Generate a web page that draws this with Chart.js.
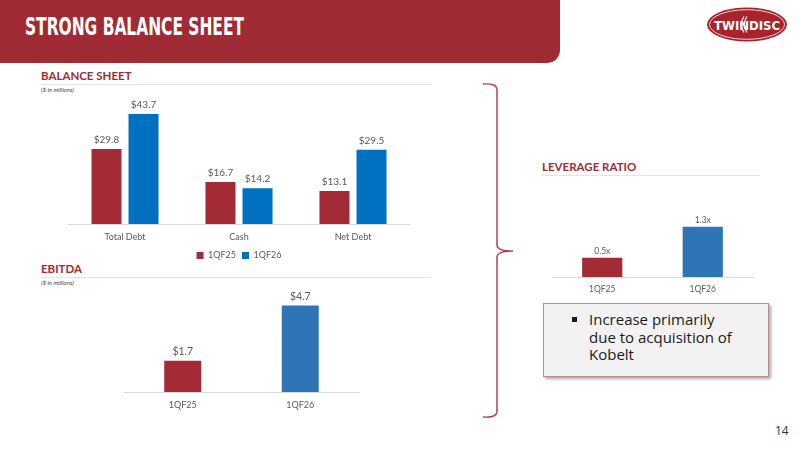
<!DOCTYPE html>
<html><head><meta charset="utf-8">
<script src="https://cdn.jsdelivr.net/npm/chart.js@4.4.1/dist/chart.umd.min.js"></script>
<style>
body{margin:0;width:800px;height:450px;overflow:hidden;background:#fff;position:relative;font-family:Lato,'Open Sans',sans-serif;}
.abs{position:absolute;}
#band{left:0;top:0;width:560px;height:63px;background:#A12B35;border-bottom-right-radius:13px;}
#title{left:25px;top:13px;color:#fff;font-weight:bold;font-size:25px;font-family:'Liberation Sans Narrow','DejaVu Sans Condensed',sans-serif;white-space:nowrap;transform-origin:0 0;display:inline-block;line-height:28px;}
.sec{color:#A12B35;font-weight:bold;font-size:11.5px;font-family:Lato,sans-serif;white-space:nowrap;line-height:14px;}
.rule{height:1px;background:#E4E4E4;}
.sub{font-style:italic;font-size:6px;color:#404040;white-space:nowrap;line-height:8px;}
canvas{position:absolute;}
#box{left:543px;top:303px;width:226px;height:74px;background:#F2F2F2;border:1px solid #BC8A8F;box-sizing:border-box;box-shadow:2px 2px 3px rgba(0,0,0,0.35);}
#boxtext{left:589px;top:311px;font-family:'Open Sans',sans-serif;font-size:15px;line-height:17.5px;color:#1b1b1b;width:152px;}
#bullet{left:572px;top:317px;width:5px;height:5px;background:#1b1b1b;}
#page{left:775px;top:422px;font-family:'Open Sans',sans-serif;font-size:12px;color:#333;}
</style></head>
<body>
<div id="band" class="abs"></div>
<span id="title" class="abs">STRONG BALANCE SHEET</span>
<svg class="abs" style="left:0;top:0" width="800" height="450">
  <ellipse cx="747" cy="24.5" rx="40" ry="17" fill="#A8232E"/>
  <ellipse cx="747" cy="24.5" rx="37.5" ry="14.8" fill="none" stroke="#fff" stroke-width="0.8"/>
  <text x="714" y="29.5" fill="#fff" font-family="'Liberation Sans Narrow','DejaVu Sans Condensed',sans-serif" font-weight="bold" font-size="13">TWIN</text>
  <path d="M744 16.5 Q738.5 24.5 744 32.5 M747 16.5 Q741.5 24.5 747 32.5" stroke="#fff" stroke-width="1.2" fill="none"/>
  <text x="749" y="29.5" fill="#fff" font-family="'Liberation Sans Narrow','DejaVu Sans Condensed',sans-serif" font-weight="bold" font-size="13">DISC</text>
  <path d="M483 84 Q497 83 497 90 L497 245 Q497 251 513 251 Q497 251 497 257 L497 411 Q497 418 483 417" stroke="#B4434E" stroke-width="1.5" fill="none"/>
</svg>

<div class="abs sec" style="left:41px;top:69px">BALANCE SHEET</div>
<div class="abs rule" style="left:41px;top:84px;width:390px"></div>
<div class="abs sub" style="left:41px;top:86px">($ in millions)</div>

<div class="abs sec" style="left:41px;top:262px">EBITDA</div>
<div class="abs rule" style="left:41px;top:277px;width:390px"></div>
<div class="abs sub" style="left:41px;top:279px">($ in millions)</div>

<div class="abs sec" style="left:542px;top:160px">LEVERAGE RATIO</div>
<div class="abs rule" style="left:542px;top:175px;width:218px"></div>

<canvas id="c1" width="358" height="180" style="left:60px;top:90px"></canvas>
<canvas id="c2" width="251" height="122" style="left:116px;top:292px"></canvas>
<canvas id="c3" width="217" height="94" style="left:544px;top:205px"></canvas>

<div id="box" class="abs"></div>
<div id="bullet" class="abs"></div>
<div id="boxtext" class="abs">Increase primarily due to acquisition of Kobelt</div>
<div id="page" class="abs">14</div>

<script>
// ---- data ----
const bsCategories = ['Total Debt', 'Cash', 'Net Debt'];
const bs1QF25 = [29.8, 16.7, 13.1];
const bs1QF26 = [43.7, 14.2, 29.5];
const bsSeriesNames = ['1QF25', '1QF26'];

const ebitdaCategories = ['1QF25', '1QF26'];
const ebitdaValues = [1.7, 4.7];

const leverageCategories = ['1QF25', '1QF26'];
const leverageValues = [0.5, 1.3];

// ---- title fit ----
(function(){
  const t=document.getElementById('title');
  const w=t.getBoundingClientRect().width;
  t.style.transform='scaleX('+(219/w)+')';
})();

const RED='#A22B35', BLUE='#0070C0', BLUE2='#2E75B6', GRAY='#595959', AXIS='#D9D9D9';

const valueLabels = {
  id:'valueLabels',
  afterDatasetsDraw(chart, args, opts){
    const ctx=chart.ctx; ctx.save();
    ctx.font=(opts.size||10)+'px Lato, sans-serif';
    ctx.fillStyle=GRAY; ctx.textAlign='center'; ctx.textBaseline='alphabetic';
    chart.data.datasets.forEach((ds,i)=>{
      chart.getDatasetMeta(i).data.forEach((el,j)=>{
        const v=ds.data[j]; if(v==null) return;
        ctx.fillText(opts.format(v), el.x, el.y-(opts.offset||5));
      });
    });
    ctx.restore();
  }
};

function xScale(fontSize, pad, h){
  return {
    grid:{display:false, drawTicks:false},
    border:{display:true, color:AXIS, width:1},
    ticks:{color:GRAY, font:{family:'Lato', size:fontSize}, padding:pad},
    afterFit(s){ s.height=h; }
  };
}

new Chart(document.getElementById('c1'), {
  type:'bar',
  data:{
    labels:bsCategories,
    datasets:[
      {label:bsSeriesNames[0], data:bs1QF25, backgroundColor:RED},
      {label:bsSeriesNames[1], data:bs1QF26, backgroundColor:BLUE}
    ]
  },
  options:{
    responsive:false, animation:false,
    layout:{padding:{left:8,right:8,top:8,bottom:0}},
    datasets:{bar:{categoryPercentage:0.65, barPercentage:0.81}},
    scales:{
      x:xScale(9,8,21),
      y:{display:false, min:0, max:50}
    },
    plugins:{
      legend:{position:'bottom', labels:{boxWidth:7, boxHeight:7, color:GRAY, font:{family:'Lato', size:9}, padding:6}},
      tooltip:{enabled:false},
      valueLabels:{size:10, offset:6, format:v=>'$'+v.toFixed(1)}
    }
  },
  plugins:[valueLabels]
});

new Chart(document.getElementById('c2'), {
  type:'bar',
  data:{
    labels:ebitdaCategories,
    datasets:[{label:'EBITDA', data:ebitdaValues, backgroundColor:[RED, BLUE2]}]
  },
  options:{
    responsive:false, animation:false,
    layout:{padding:{left:8,right:8,top:8,bottom:0}},
    datasets:{bar:{categoryPercentage:1, barPercentage:0.315}},
    scales:{
      x:xScale(9,8,22),
      y:{display:false, min:0, max:5}
    },
    plugins:{
      legend:{display:false}, tooltip:{enabled:false},
      valueLabels:{size:10.5, offset:6, format:v=>'$'+v.toFixed(1)}
    }
  },
  plugins:[valueLabels]
});

new Chart(document.getElementById('c3'), {
  type:'bar',
  data:{
    labels:leverageCategories,
    datasets:[{label:'Leverage', data:leverageValues, backgroundColor:[RED, BLUE2]}]
  },
  options:{
    responsive:false, animation:false,
    layout:{padding:{left:8,right:8,top:14,bottom:0}},
    datasets:{bar:{categoryPercentage:1, barPercentage:0.4}},
    scales:{
      x:xScale(8.5,7,22),
      y:{display:false, min:0, max:1.5}
    },
    plugins:{
      legend:{display:false}, tooltip:{enabled:false},
      valueLabels:{size:8.5, offset:4, format:v=>v.toFixed(1)+'x'}
    }
  },
  plugins:[valueLabels]
});
</script>
</body></html>
